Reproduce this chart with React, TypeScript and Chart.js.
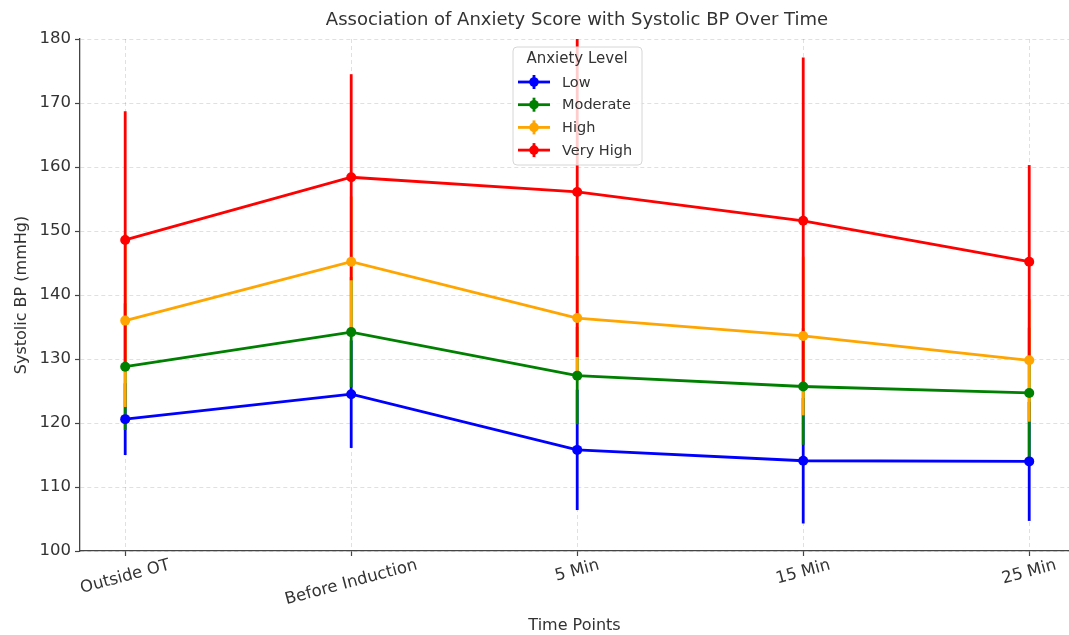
import React, { useEffect, useRef } from "react";
import { Chart, registerables } from "chart.js";

Chart.register(...registerables);

// ---- data ----
const timePoints = ["Outside OT", "Before Induction", "5 Min", "15 Min", "25 Min"];
const seriesNames = ["Low", "Moderate", "High", "Very High"];
const seriesColors = ["#0000ff", "#008000", "#ffa500", "#ff0000"];

const lowMean = [120.6, 124.5, 115.8, 114.1, 114.0];
const lowErr = [5.6, 8.4, 9.4, 9.8, 9.3];
const moderateMean = [128.8, 134.2, 127.4, 125.7, 124.7];
const moderateErr = [9.9, 8.6, 7.6, 9.1, 10.2];
const highMean = [136.0, 145.2, 136.4, 133.6, 129.8];
const highErr = [13.5, 10.2, 9.7, 12.4, 9.6];
const veryHighMean = [148.6, 158.4, 156.1, 151.6, 145.2];
const veryHighErr = [20.1, 16.1, 25.8, 25.5, 15.1];

const yMin = 100;
const yMax = 180;
const yStep = 10;

const chartTitle = "Association of Anxiety Score with Systolic BP Over Time";
const xTitle = "Time Points";
const yTitle = "Systolic BP (mmHg)";
const legendTitle = "Anxiety Level";

const FONT = "'DejaVu Sans', 'Liberation Sans', sans-serif";
const TEXT = "#333333";

const means = [lowMean, moderateMean, highMean, veryHighMean];
const errs = [lowErr, moderateErr, highErr, veryHighErr];

const errorBarPlugin = {
  id: "errorBars",
  beforeDatasetsDraw(chart: any) {
    const { ctx, chartArea, scales } = chart;
    const x = scales.x;
    const y = scales.y;
    ctx.save();
    ctx.beginPath();
    ctx.rect(chartArea.left, chartArea.top, chartArea.right - chartArea.left, chartArea.bottom - chartArea.top);
    ctx.clip();
    chart.data.datasets.forEach((ds: any) => {
      ctx.strokeStyle = ds.borderColor;
      ctx.lineWidth = 2.8;
      ds.data.forEach((p: any, i: number) => {
        const e = ds.errors[i];
        const px = x.getPixelForValue(p.x);
        ctx.beginPath();
        ctx.moveTo(px, y.getPixelForValue(p.y - e));
        ctx.lineTo(px, y.getPixelForValue(p.y + e));
        ctx.stroke();
      });
    });
    ctx.restore();
  },
};

const decorPlugin = {
  id: "decor",
  afterDraw(chart: any) {
    const { ctx, chartArea, scales } = chart;
    const x = scales.x;
    ctx.save();
    // title
    ctx.fillStyle = TEXT;
    ctx.font = `18px ${FONT}`;
    ctx.textAlign = "center";
    ctx.textBaseline = "middle";
    ctx.fillText(chartTitle, 577, 20);

    // rotated x tick labels (center aligned)
    const ang = (15 * Math.PI) / 180;
    ctx.font = `16.5px ${FONT}`;
    timePoints.forEach((lab, i) => {
      const px = x.getPixelForValue(i);
      const L = ctx.measureText(lab).width;
      const h = 16.5;
      const bh = L * Math.sin(ang) + h * Math.cos(ang);
      const cy = chartArea.bottom + 6 + bh / 2;
      ctx.save();
      ctx.translate(px, cy);
      ctx.rotate(-ang);
      ctx.textAlign = "center";
      ctx.textBaseline = "middle";
      ctx.fillText(lab, 0, 0);
      ctx.restore();
    });

    // legend
    const bx = 513, by = 47, bw = 129, bh2 = 118, r = 4;
    ctx.beginPath();
    ctx.moveTo(bx + r, by);
    ctx.lineTo(bx + bw - r, by);
    ctx.quadraticCurveTo(bx + bw, by, bx + bw, by + r);
    ctx.lineTo(bx + bw, by + bh2 - r);
    ctx.quadraticCurveTo(bx + bw, by + bh2, bx + bw - r, by + bh2);
    ctx.lineTo(bx + r, by + bh2);
    ctx.quadraticCurveTo(bx, by + bh2, bx, by + bh2 - r);
    ctx.lineTo(bx, by + r);
    ctx.quadraticCurveTo(bx, by, bx + r, by);
    ctx.closePath();
    ctx.fillStyle = "rgba(255,255,255,0.8)";
    ctx.fill();
    ctx.strokeStyle = "#d6d6d6";
    ctx.lineWidth = 1;
    ctx.stroke();

    ctx.fillStyle = TEXT;
    ctx.font = `15px ${FONT}`;
    ctx.textAlign = "center";
    ctx.textBaseline = "middle";
    ctx.fillText(legendTitle, 577, 59);

    ctx.font = `14.5px ${FONT}`;
    ctx.textAlign = "left";
    seriesNames.forEach((name, k) => {
      const cy = 82 + k * 22.7;
      const col = seriesColors[k];
      ctx.strokeStyle = col;
      ctx.fillStyle = col;
      ctx.lineWidth = 2.8;
      ctx.beginPath();
      ctx.moveTo(518, cy);
      ctx.lineTo(550, cy);
      ctx.stroke();
      ctx.beginPath();
      ctx.moveTo(534, cy - 7);
      ctx.lineTo(534, cy + 7);
      ctx.stroke();
      ctx.beginPath();
      ctx.arc(534, cy, 4.8, 0, Math.PI * 2);
      ctx.fill();
      ctx.fillStyle = TEXT;
      ctx.fillText(name, 562, cy + 1);
    });
    ctx.restore();
  },
};

export default function App() {
  const ref = useRef<HTMLCanvasElement | null>(null);

  useEffect(() => {
    if (!ref.current) return;
    const datasets = seriesNames.map((name, k) => ({
      label: name,
      data: means[k].map((v, i) => ({ x: i, y: v })),
      errors: errs[k],
      borderColor: seriesColors[k],
      backgroundColor: seriesColors[k],
      pointBackgroundColor: seriesColors[k],
      pointBorderWidth: 0,
      pointRadius: 5,
      borderWidth: 2.8,
      tension: 0,
      order: seriesNames.length - k,
    }));

    const chart = new Chart(ref.current, {
      type: "line",
      data: { datasets: datasets as any },
      options: {
        responsive: false,
        animation: false,
        devicePixelRatio: 1,
        layout: { autoPadding: false, padding: { left: 8, top: 39, right: 0, bottom: 0 } },
        plugins: {
          legend: { display: false },
          title: { display: false },
          tooltip: { enabled: false },
        },
        scales: {
          x: {
            type: "linear",
            min: -0.2,
            max: 4.176,
            afterBuildTicks: (scale: any) => {
              scale.ticks = timePoints.map((_, i) => ({ value: i }));
            },
            afterFit: (scale: any) => {
              scale.height = 84;
            },
            ticks: { display: false },
            grid: {
              color: "rgba(0,0,0,0.12)",
              lineWidth: 1,
              tickLength: 5,
              tickColor: "#444",
              tickWidth: 1.2,
            },
            border: { color: "#444", width: 1.3, dash: [4, 3] },
            title: {
              display: true,
              text: xTitle,
              color: TEXT,
              font: { family: FONT, size: 16 },
              padding: { top: 0, bottom: 0 },
            },
          },
          y: {
            type: "linear",
            min: yMin,
            max: yMax,
            afterFit: (scale: any) => {
              scale.width = 72;
            },
            ticks: {
              stepSize: yStep,
              color: TEXT,
              padding: 4,
              font: { family: FONT, size: 16.5 },
            },
            grid: {
              color: "rgba(0,0,0,0.12)",
              lineWidth: 1,
              tickLength: 5,
              tickColor: "#444",
              tickWidth: 1.2,
            },
            border: { color: "#444", width: 1.3, dash: [4, 3] },
            title: {
              display: true,
              text: yTitle,
              color: TEXT,
              font: { family: FONT, size: 16 },
              padding: { top: 4.4, bottom: 0 },
            },
          },
        },
      } as any,
      plugins: [errorBarPlugin, decorPlugin],
    });
    return () => chart.destroy();
  }, []);

  return (
    <canvas
      ref={ref}
      width={1069}
      height={635}
      style={{ position: "absolute", left: 0, top: 0, width: 1069, height: 635 }}
    />
  );
}
